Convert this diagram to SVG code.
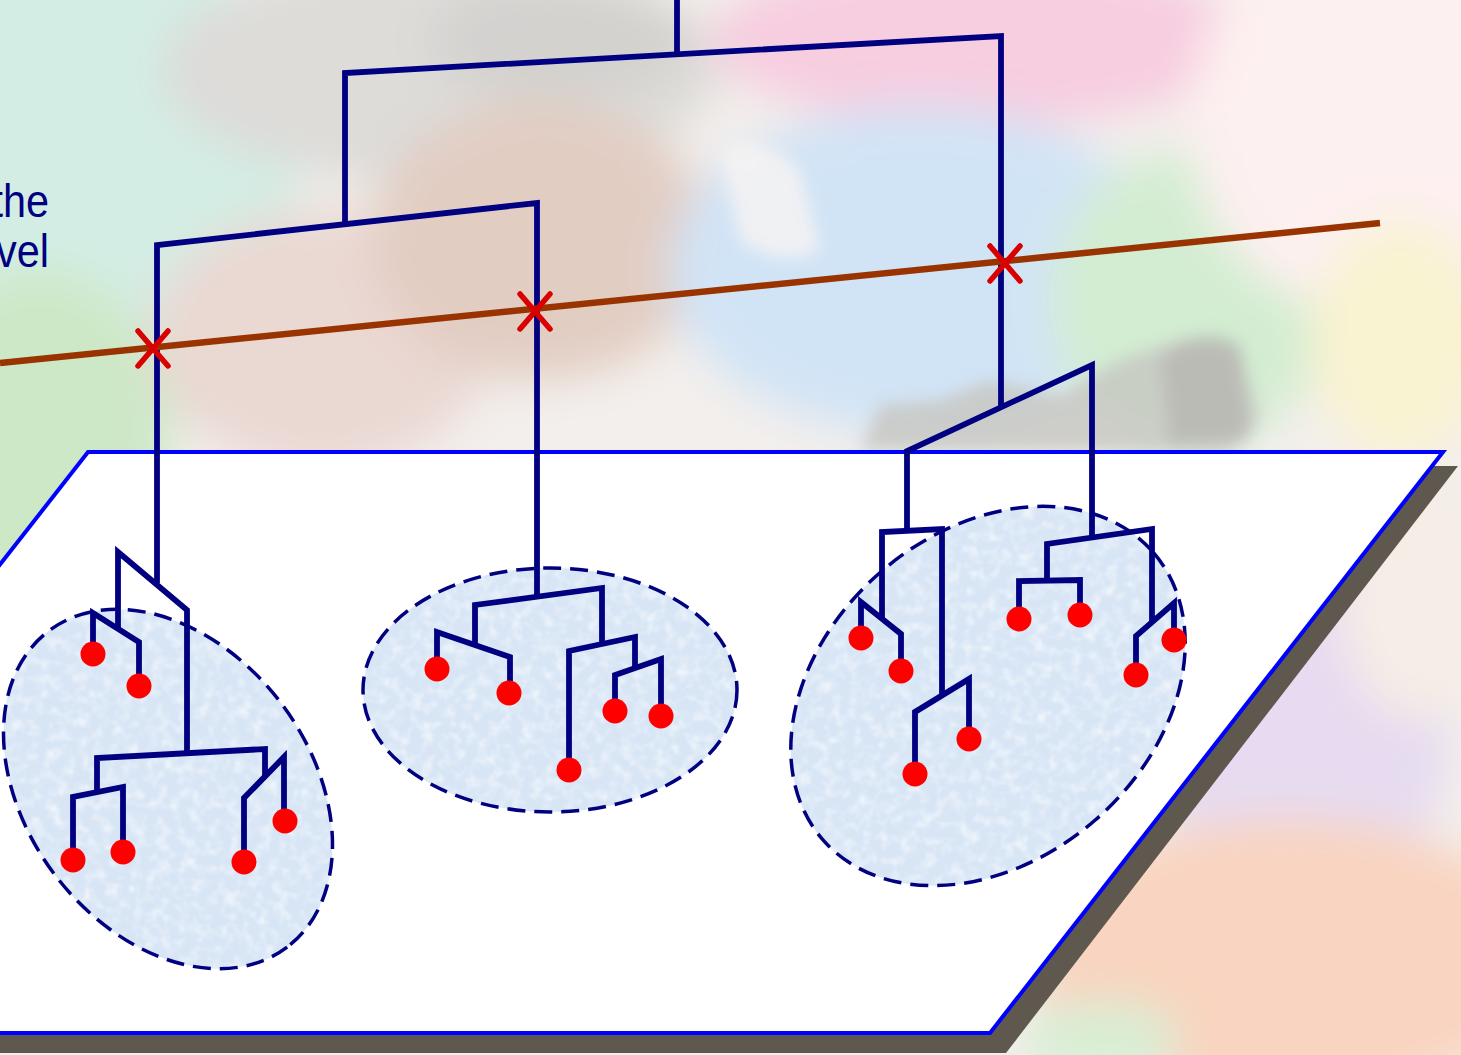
<svg xmlns="http://www.w3.org/2000/svg" width="1461" height="1055" viewBox="0 0 1461 1055">
  <defs>
    <style>
      .branch { fill: none; stroke: #000080; stroke-width: 5.8; stroke-linejoin: miter; stroke-linecap: butt; }
      .leaf { fill: #ff0000; }
      .cluster { fill: #d7e5f5; stroke: none; }
      .cluster-edge { fill: none; stroke: #000080; stroke-width: 3.5; stroke-dasharray: 18 9; }
      .grain { fill: #000; filter: url(#grain); }
      .cut { fill: none; stroke: #993300; stroke-width: 6.5; }
      .mark { fill: none; stroke: #d90000; stroke-width: 5.5; stroke-linecap: round; }
      .caption { font-family: "Liberation Sans", Arial, sans-serif; font-size: 46px; fill: #000080; }
    </style>
    <filter id="wash" x="-20%" y="-20%" width="140%" height="140%">
      <feGaussianBlur stdDeviation="22"/>
    </filter>
    <filter id="softwash" x="-20%" y="-20%" width="140%" height="140%">
      <feGaussianBlur stdDeviation="8"/>
    </filter>
    <filter id="grain" x="0" y="0" width="100%" height="100%">
      <feTurbulence type="fractalNoise" baseFrequency="0.09" numOctaves="2" seed="7" result="noise"/>
      <feColorMatrix in="noise" type="matrix" values="0 0 0 0 1  0 0 0 0 1  0 0 0 0 1  1.3 0 0 0 -0.55" result="specks"/>
      <feComposite in="specks" in2="SourceGraphic" operator="in"/>
    </filter>
  </defs>

  <!-- watercolour backdrop -->
  <g id="backdrop">
    <rect x="0" y="0" width="1461" height="1055" fill="#f3efec"/>
    <g filter="url(#wash)">
      <ellipse cx="90" cy="180" rx="210" ry="270" fill="#d3ede4"/>
      <ellipse cx="40" cy="440" rx="130" ry="170" fill="#cde8c6"/>
      <ellipse cx="440" cy="70" rx="280" ry="115" fill="#dddcd9"/>
      <ellipse cx="560" cy="40" rx="130" ry="60" fill="#d3d2cf"/>
      <ellipse cx="320" cy="340" rx="170" ry="130" fill="#ead8d3"/>
      <ellipse cx="540" cy="240" rx="170" ry="140" fill="#e2cdc3"/>
      <ellipse cx="980" cy="40" rx="270" ry="85" fill="#f7cde0"/>
      <ellipse cx="920" cy="270" rx="250" ry="165" fill="#d1e4f6"/>
      <ellipse cx="1190" cy="300" rx="140" ry="150" fill="#d3edd2"/>
      <ellipse cx="1360" cy="120" rx="170" ry="190" fill="#fdf0f0"/>
      <ellipse cx="1400" cy="340" rx="90" ry="120" fill="#f9f3d2"/>
      <ellipse cx="1300" cy="720" rx="150" ry="200" fill="#e6dbf0"/>
      <ellipse cx="1290" cy="960" rx="260" ry="140" fill="#f9d4c0"/>
      <ellipse cx="1420" cy="600" rx="80" ry="120" fill="#f5ede6"/>
      <ellipse cx="1100" cy="1040" rx="80" ry="40" fill="#d8eed4"/>
    </g>
    <g filter="url(#softwash)">
      <path d="M860 450 L880 405 L940 400 L990 380 L1060 395 L1120 360 L1180 340 L1240 350 L1260 420 L1230 452 Z" fill="#c6c5c1" opacity="0.8"/>
      <path d="M1160 360 Q1200 320 1240 345 L1250 440 L1170 445 Z" fill="#b5b4af" opacity="0.7"/>
      <path d="M720 150 Q760 130 800 170 L820 250 Q780 270 740 240 Z" fill="#f7f4f2" opacity="0.8"/>
    </g>
  </g>

  <!-- ground plane with its drop shadow -->
  <g id="plane">
    <polygon points="100,466 1458,466 1006,1053 -400,1053" fill="#5e584f"/>
    <polygon points="88,452 1443,452 990,1033 -366,1033" fill="#ffffff" stroke="#0000ff" stroke-width="4" stroke-linejoin="miter"/>
  </g>

  <text class="caption" transform="scale(0.9 1)" x="54.4" y="217" text-anchor="end">the</text>
  <text class="caption" transform="scale(0.9 1)" x="54.4" y="267" text-anchor="end">vel</text>

  <!-- cluster regions on the plane -->
  <g id="cluster-a">
    <ellipse class="cluster" cx="168" cy="789" rx="198" ry="142" transform="rotate(53 168 789)"/>
    <ellipse class="grain" cx="168" cy="789" rx="198" ry="142" transform="rotate(53 168 789)"/>
    <ellipse class="cluster-edge" cx="168" cy="789" rx="198" ry="142" transform="rotate(53 168 789)"/>
  </g>
  <g id="cluster-b">
    <ellipse class="cluster" cx="550" cy="690" rx="187" ry="122"/>
    <ellipse class="grain" cx="550" cy="690" rx="187" ry="122"/>
    <ellipse class="cluster-edge" cx="550" cy="690" rx="187" ry="122"/>
  </g>
  <g id="cluster-c">
    <ellipse class="cluster" cx="988" cy="696" rx="219" ry="164" transform="rotate(-41 988 696)"/>
    <ellipse class="grain" cx="988" cy="696" rx="219" ry="164" transform="rotate(-41 988 696)"/>
    <ellipse class="cluster-edge" cx="988" cy="696" rx="219" ry="164" transform="rotate(-41 988 696)"/>
  </g>

  <!-- dendrogram branches -->
  <g id="connectors">
    <path class="branch" d="M677,0 V55"/>
    <path class="branch" d="M345,224 V73 L1001,36 V409"/>
    <path class="branch" d="M157,583 V245 L537,203 V598"/>
    <!-- cluster a -->
    <path class="branch" d="M118,630 V552 L187,610 V753"/>
    <path class="branch" d="M93,654 V613 L139,642 V686"/>
    <path class="branch" d="M97,792 V758 L265,749 V776"/>
    <path class="branch" d="M73,860 V797 L123,787 V852"/>
    <path class="branch" d="M244,862 V798 L284,757 V821"/>
    <!-- cluster b -->
    <path class="branch" d="M475,645 V605 L602,588 V644"/>
    <path class="branch" d="M437,669 V632 L510,657 V693"/>
    <path class="branch" d="M569,770 V651 L635,637 V668"/>
    <path class="branch" d="M615,711 V675 L661,659 V716"/>
    <!-- cluster c -->
    <path class="branch" d="M907,531 V451 L1092,365 V538"/>
    <path class="branch" d="M882,620 V532 L942,529 V695"/>
    <path class="branch" d="M861,638 V602 L901,634 V671"/>
    <path class="branch" d="M915,774 V712 L969,679 V739"/>
    <path class="branch" d="M1047,581 V544 L1152,529 V621"/>
    <path class="branch" d="M1019,619 V581 L1080,580 V615"/>
    <path class="branch" d="M1136,675 V636 L1174,603 V640"/>
  </g>

  <!-- leaves -->
  <g id="leaves-a">
    <circle class="leaf" cx="93" cy="654" r="12.5"/>
    <circle class="leaf" cx="139" cy="686" r="12.5"/>
    <circle class="leaf" cx="73" cy="860" r="12.5"/>
    <circle class="leaf" cx="123" cy="852" r="12.5"/>
    <circle class="leaf" cx="244" cy="862" r="12.5"/>
    <circle class="leaf" cx="285" cy="821" r="12.5"/>
  </g>
  <g id="leaves-b">
    <circle class="leaf" cx="437" cy="669" r="12.5"/>
    <circle class="leaf" cx="509" cy="693" r="12.5"/>
    <circle class="leaf" cx="569" cy="770" r="12.5"/>
    <circle class="leaf" cx="615" cy="711" r="12.5"/>
    <circle class="leaf" cx="661" cy="716" r="12.5"/>
  </g>
  <g id="leaves-c">
    <circle class="leaf" cx="861" cy="638" r="12.5"/>
    <circle class="leaf" cx="901" cy="671" r="12.5"/>
    <circle class="leaf" cx="915" cy="774" r="12.5"/>
    <circle class="leaf" cx="969" cy="739" r="12.5"/>
    <circle class="leaf" cx="1019" cy="619" r="12.5"/>
    <circle class="leaf" cx="1080" cy="615" r="12.5"/>
    <circle class="leaf" cx="1136" cy="675" r="12.5"/>
    <circle class="leaf" cx="1174" cy="640" r="12.5"/>
  </g>

  <!-- cut level and the crossings it makes -->
  <g id="cut-line">
    <line class="cut" x1="0" y1="363" x2="1380" y2="223"/>
  </g>
  <g id="cut-marks">
    <path class="mark" d="M138,331 L168,366 M168,331 L138,366"/>
    <path class="mark" d="M520,294 L550,329 M550,294 L520,329"/>
    <path class="mark" d="M990,246 L1020,281 M1020,246 L990,281"/>
  </g>
</svg>
